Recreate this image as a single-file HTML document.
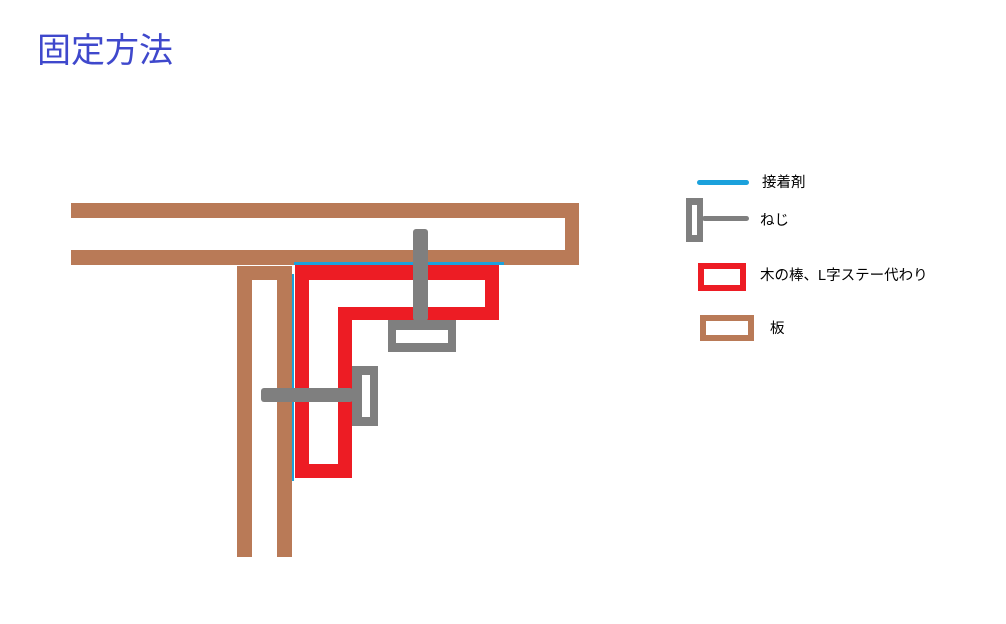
<!DOCTYPE html>
<html><head><meta charset="utf-8"><style>
html,body{margin:0;padding:0;background:#fff;width:1006px;height:624px;overflow:hidden}
svg{position:absolute;left:0;top:0}
text{font-family:"Liberation Sans","Noto Sans CJK JP",sans-serif}
</style></head><body>
<svg width="1006" height="624" viewBox="0 0 1006 624">
<text x="37" y="62" font-size="34" fill="#3f48cc">固定方法</text>
<g fill="#b97a57">
<rect x="71" y="203" width="508" height="15"/>
<rect x="71" y="250" width="508" height="15"/>
<rect x="565" y="203" width="14" height="62"/>
<rect x="237" y="266" width="55" height="14"/>
<rect x="237" y="266" width="15" height="291"/>
<rect x="277" y="266" width="15" height="291"/>
</g>
<path fill-rule="evenodd" fill="#ed1c24" d="M295 265H499V320H352V478H295Z M309 280V464H338V307H485V280Z"/>
<rect x="294" y="262" width="210" height="3" fill="#1ba1dc"/>
<rect x="292" y="274" width="2" height="207" fill="#1ba1dc"/>
<g fill="#7f7f7f">
<rect x="413" y="229" width="15" height="92" rx="3"/>
<path fill-rule="evenodd" d="M388 320H456V352H388Z M396 330V343H448V330Z"/>
<rect x="261" y="388" width="92" height="14" rx="3"/>
<path fill-rule="evenodd" d="M352 366H378V426H352Z M362 375V417H370V375Z"/>
</g>
<rect x="697" y="180" width="52" height="5" rx="2.5" fill="#1ba1dc"/>
<text x="762" y="187" font-size="14.5" fill="#000">接着剤</text>
<path fill-rule="evenodd" fill="#7f7f7f" d="M686 198H703V242H686Z M692 205V235H697V205Z"/>
<rect x="702" y="216" width="47" height="5" rx="2.5" fill="#7f7f7f"/>
<text x="760" y="225" font-size="14.5" fill="#000">ねじ</text>
<rect x="701" y="266" width="42" height="22" fill="none" stroke="#ed1c24" stroke-width="6"/>
<text x="760" y="280" font-size="14.5" fill="#000">木の棒、L字ステー代わり</text>
<rect x="703" y="318" width="48" height="20" fill="none" stroke="#b97a57" stroke-width="6"/>
<text x="770" y="333" font-size="14.5" fill="#000">板</text>
</svg>
</body></html>
